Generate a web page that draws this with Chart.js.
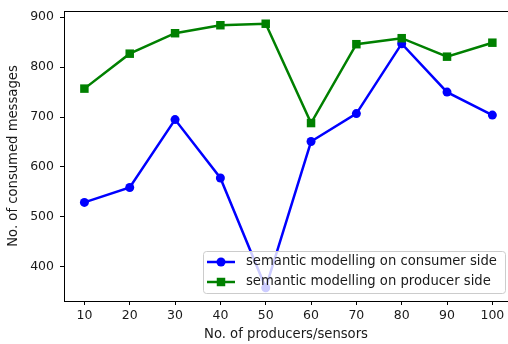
<!DOCTYPE html>
<html>
<head>
<meta charset="utf-8">
<script src="https://cdn.jsdelivr.net/npm/chart.js@4/dist/chart.umd.min.js"></script>
<style>
  html, body { margin: 0; padding: 0; overflow: hidden; background: #fff; }
</style>
</head>
<body>
<canvas id="line-chart" width="508" height="344"></canvas>
<script>
// data
var categories = [10, 20, 30, 40, 50, 60, 70, 80, 90, 100];
var consumerSide = [529, 559, 695, 578, 358, 651, 707, 847, 750, 704];
var producerSide = [757, 827, 868, 884, 887, 688, 846, 858, 821, 849];
var yTicks = [400, 500, 600, 700, 800, 900];
var seriesLabels = ["semantic modelling on consumer side", "semantic modelling on producer side"];

var TICK_FONT = { family: "DejaVu Sans", size: 12.5 };
var LABEL_FONT = { family: "DejaVu Sans", size: 13.2 };
var TEXT = '#1a1a1a';

function toPoints(values) {
  return categories.map(function (c, i) { return { x: c, y: values[i] }; });
}

// top spine + legend inside the plot, lower right
// (the plot runs past the right edge of the picture, so no right spine)
var frameAndLegend = {
  id: 'frameAndLegend',
  afterDatasetsDraw: function (chart) {
    var ctx = chart.ctx;
    var a = chart.chartArea;
    ctx.save();
    ctx.strokeStyle = '#000';
    ctx.lineWidth = 1;
    ctx.beginPath();
    ctx.moveTo(a.left, a.top + 0.5);
    ctx.lineTo(a.right, a.top + 0.5);
    ctx.stroke();

    var w = 302, h = 42;
    var x0 = a.right - 3 - w, y0 = a.bottom - 8 - h;
    ctx.fillStyle = 'rgba(255,255,255,0.8)';
    ctx.strokeStyle = '#cccccc';
    ctx.beginPath();
    ctx.roundRect(x0 + 0.5, y0 + 0.5, w, h, 3);
    ctx.fill();
    ctx.stroke();

    chart.data.datasets.forEach(function (ds, i) {
      var cy = y0 + 11 + i * 20;
      ctx.strokeStyle = ds.borderColor;
      ctx.lineWidth = ds.borderWidth;
      ctx.beginPath();
      ctx.moveTo(x0 + 4, cy);
      ctx.lineTo(x0 + 32, cy);
      ctx.stroke();
      ctx.fillStyle = ds.pointBackgroundColor;
      ctx.beginPath();
      if (ds.pointStyle === 'circle') {
        ctx.arc(x0 + 18, cy, ds.pointRadius, 0, Math.PI * 2);
      } else {
        var s = ds.pointRadius * Math.SQRT1_2;
        ctx.rect(x0 + 18 - s, cy - s, 2 * s, 2 * s);
      }
      ctx.fill();
      ctx.fillStyle = TEXT;
      ctx.font = LABEL_FONT.size + 'px "' + LABEL_FONT.family + '"';
      ctx.textBaseline = 'middle';
      ctx.textAlign = 'left';
      ctx.fillText(seriesLabels[i], x0 + 43, cy);
    });
    ctx.restore();
  }
};

new Chart(document.getElementById("line-chart"), {
  type: 'line',
  data: {
    datasets: [
      {
        label: seriesLabels[0],
        data: toPoints(consumerSide),
        borderColor: '#0000ff',
        backgroundColor: '#0000ff',
        pointBackgroundColor: '#0000ff',
        borderWidth: 2.5,
        pointStyle: 'circle',
        pointRadius: 4.5,
        pointBorderWidth: 0,
        order: 1
      },
      {
        label: seriesLabels[1],
        data: toPoints(producerSide),
        borderColor: '#008000',
        backgroundColor: '#008000',
        pointBackgroundColor: '#008000',
        borderWidth: 2.5,
        pointStyle: 'rect',
        pointRadius: 6,
        pointBorderWidth: 0,
        order: 0
      }
    ]
  },
  options: {
    responsive: false,
    animation: false,
    layout: { autoPadding: false, padding: { top: 11, right: 0, left: 0, bottom: 0 } },
    plugins: {
      legend: { display: false },
      tooltip: { enabled: false }
    },
    scales: {
      x: {
        type: 'linear',
        min: 5.5,
        max: 103.45,
        afterBuildTicks: function (scale) {
          scale.ticks = categories.map(function (v) { return { value: v }; });
        },
        afterFit: function (scale) {
          scale.height = 43;
          scale.paddingRight = 0;
        },
        grid: { drawOnChartArea: false, tickLength: 4, color: '#000' },
        border: { display: true, color: '#000', width: 1 },
        ticks: { font: TICK_FONT, color: TEXT, padding: 3, maxRotation: 0, autoSkip: false },
        title: { display: true, text: 'No. of producers/sensors', font: LABEL_FONT, color: TEXT, padding: { top: 0, bottom: 2 } }
      },
      y: {
        min: 331.5,
        max: 912.5,
        afterBuildTicks: function (scale) {
          scale.ticks = yTicks.map(function (v) { return { value: v }; });
        },
        afterFit: function (scale) {
          scale.width = 64;
          scale.paddingTop = 0;
        },
        grid: { drawOnChartArea: false, tickLength: 4, color: '#000' },
        border: { display: true, color: '#000', width: 1 },
        ticks: { font: TICK_FONT, color: TEXT, padding: 6 },
        title: { display: true, text: 'No. of consumed messages', font: LABEL_FONT, color: TEXT, padding: { top: 6, bottom: 0 } }
      }
    }
  },
  plugins: [frameAndLegend]
});
</script>
</body>
</html>
